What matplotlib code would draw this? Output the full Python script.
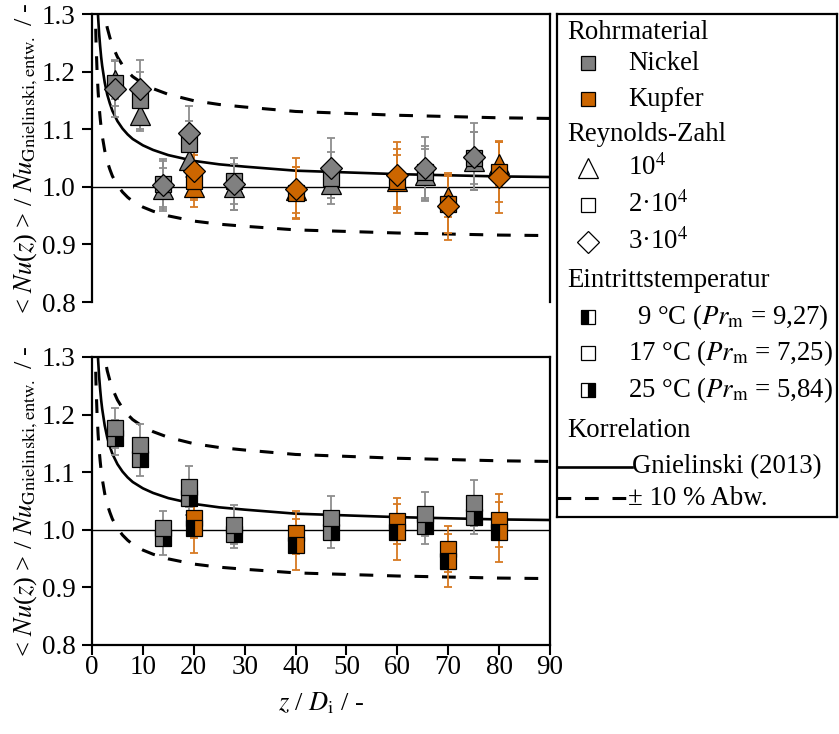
import numpy as np
import matplotlib
matplotlib.use("Agg")
import matplotlib.pyplot as plt

plt.rcParams['font.family'] = ['Liberation Serif', 'DejaVu Serif']
plt.rcParams['mathtext.fontset'] = 'stix'
plt.rcParams['font.size'] = 19

# ---- data ----
x_ni = [4.5, 9.5, 14, 19, 28, 47, 65.5, 75]
x_cu = [20, 40, 60, 70, 80]

# upper panel: Reynolds number series
ni_re1 = [1.185, 1.125, 0.997, 1.047, 1.000, 1.005, 1.020, 1.045]
ni_re1_err = [0.033, 0.028, 0.035, 0.030, 0.040, 0.025, 0.045, 0.050]
ni_re2 = [1.180, 1.150, 1.005, 1.075, 1.010, 1.015, 1.025, 1.050]
ni_re2_err = [0.040, 0.050, 0.040, 0.040, 0.040, 0.045, 0.045, 0.045]
ni_re3 = [1.170, 1.170, 1.003, 1.093, 1.005, 1.032, 1.032, 1.052]
ni_re3_err = [0.048, 0.050, 0.045, 0.048, 0.045, 0.052, 0.055, 0.058]

cu_re1 = [1.000, 0.995, 1.010, 0.983, 1.040]
cu_re1_err = [0.020, 0.040, 0.045, 0.035, 0.038]
cu_re2 = [1.010, 0.990, 1.010, 0.970, 1.025]
cu_re2_err = [0.045, 0.045, 0.055, 0.050, 0.052]
cu_re3 = [1.027, 0.997, 1.020, 0.966, 1.017]
cu_re3_err = [0.050, 0.053, 0.058, 0.058, 0.062]

# lower panel: inlet temperature series
ni_t17 = [1.177, 1.147, 1.003, 1.075, 1.009, 1.021, 1.027, 1.047]
ni_t17_err = [0.035, 0.037, 0.030, 0.035, 0.034, 0.037, 0.038, 0.040]
ni_t25 = [1.160, 1.123, 0.985, 1.055, 0.993, 0.996, 1.006, 1.023]
ni_t25_err = [0.030, 0.030, 0.028, 0.030, 0.025, 0.027, 0.030, 0.030]

cu_t17 = [1.020, 0.995, 1.015, 0.966, 1.017]
cu_t17_err = [0.035, 0.037, 0.040, 0.040, 0.046]
cu_t9 = [1.003, 0.974, 0.996, 0.946, 0.996]
cu_t9_err = [0.043, 0.044, 0.049, 0.046, 0.052]

# Gnielinski (2013) correlation
corr_x = [0.6, 0.8, 1.0, 1.2, 1.4, 1.6, 1.8, 2, 2.5, 3, 3.5, 4, 5, 6, 7, 8, 10,
          12, 15, 20, 25, 30, 40, 50, 60, 70, 80, 90]
corr_y = [1.469, 1.387, 1.333, 1.295, 1.266, 1.244, 1.225, 1.210, 1.181, 1.160,
          1.145, 1.132, 1.114, 1.101, 1.091, 1.083, 1.072, 1.064, 1.055, 1.045,
          1.039, 1.035, 1.028, 1.025, 1.022, 1.020, 1.018, 1.017]

ni_col = '#808080'
ni_err = '#8e8e8e'
cu_col = '#CC6600'
cu_err = '#D77A22'

W, H = 839, 734
fig = plt.figure(figsize=(W / 100, H / 100), dpi=100)

def px_axes(l, t, r, b):
    return fig.add_axes([l / W, 1 - b / H, (r - l) / W, (b - t) / H])

ax1 = px_axes(92, 14, 550, 302)
ax2 = px_axes(92, 357, 550, 645)

cx = np.array(corr_x)
cy = np.array(corr_y)


def base(ax):
    ax.plot(cx, cy, color='black', lw=1.9, zorder=2)
    for f in (1.1, 0.9):
        ax.plot(cx, cy * f, color='black', lw=2.2, dashes=(4.5, 4.5), zorder=2)
    ax.axhline(1.0, color='black', lw=1.0, zorder=1)
    ax.set_xlim(0, 90)
    ax.set_ylim(0.8, 1.3)
    ax.set_yticks([0.8, 0.9, 1.0, 1.1, 1.2, 1.3])
    ax.set_yticklabels(['0.8', '0.9', '1.0', '1.1', '1.2', '1.3'])
    ax.tick_params(direction='out', length=7, width=1.5, labelsize=19.5, pad=5)
    ax.tick_params(axis='x', pad=0)
    for s in ax.spines.values():
        s.set_linewidth(1.6)
    ax.set_ylabel(r'< $Nu$($z$) > / $Nu_{\mathrm{Gnielinski,entw.}}$ / -',
                  fontsize=19, labelpad=1)


base(ax1)
base(ax2)
ax1.spines['bottom'].set_visible(False)
ax1.set_xticks([])
ax2.set_xticks(range(0, 91, 10))
ax2.set_xlabel(r'$z$ / $D_{\mathrm{i}}$ / -', fontsize=19, labelpad=8)

ekw = dict(capsize=3, elinewidth=1.3, capthick=1.3, linestyle='none', zorder=3)

# upper panel
series = [
    (x_ni, ni_re1, ni_re1_err, '^', 15, ni_col, ni_err),
    (x_ni, ni_re2, ni_re2_err, 's', 11.5, ni_col, ni_err),
    (x_ni, ni_re3, ni_re3_err, 'D', 11.5, ni_col, ni_err),
    (x_cu, cu_re1, cu_re1_err, '^', 15, cu_col, cu_err),
    (x_cu, cu_re2, cu_re2_err, 's', 11.5, cu_col, cu_err),
    (x_cu, cu_re3, cu_re3_err, 'D', 11.5, cu_col, cu_err),
]
for x, y, e, m, ms, fc, ec in series:
    ax1.errorbar(x, y, yerr=e, ecolor=ec, fmt='none', **ekw)
for x, y, e, m, ms, fc, ec in series:
    ax1.plot(x, y, linestyle='none', marker=m, ms=ms, mfc=fc, mec='black',
             mew=0.9, zorder=4)

# lower panel
for x, y, e, ec in [(x_ni, ni_t25, ni_t25_err, ni_err),
                    (x_ni, ni_t17, ni_t17_err, ni_err),
                    (x_cu, cu_t17, cu_t17_err, cu_err),
                    (x_cu, cu_t9, cu_t9_err, cu_err)]:
    ax2.errorbar(x, y, yerr=e, ecolor=ec, fmt='none', **ekw)
ax2.plot(x_ni, ni_t25, linestyle='none', marker='s', ms=11.5, fillstyle='right',
         mfc='black', mfcalt=ni_col, mec='black', mew=0.9, zorder=4)
ax2.plot(x_ni, ni_t17, linestyle='none', marker='s', ms=11.5, mfc=ni_col,
         mec='black', mew=0.9, zorder=5)
ax2.plot(x_cu, cu_t17, linestyle='none', marker='s', ms=11.5, mfc=cu_col,
         mec='black', mew=0.9, zorder=4)
ax2.plot(x_cu, cu_t9, linestyle='none', marker='s', ms=11.5, fillstyle='left',
         mfc='black', mfcalt=cu_col, mec='black', mew=0.9, zorder=5)

# legend drawn by hand in pixel units
lax = px_axes(557, 14, 837, 517)
lax.set_xlim(0, 280)
lax.set_ylim(503, 0)
lax.set_xticks([])
lax.set_yticks([])
for s in lax.spines.values():
    s.set_linewidth(1.6)

fs = 19.3
mx = 31
tx = 71
lax.text(10, 18, 'Rohrmaterial', va='center', fontsize=fs)
lax.plot([mx], [49], 's', ms=10.5, mfc=ni_col, mec='black', mew=0.9)
lax.text(tx, 49, 'Nickel', va='center', fontsize=fs)
lax.plot([mx], [85], 's', ms=10.5, mfc=cu_col, mec='black', mew=0.9)
lax.text(tx, 85, 'Kupfer', va='center', fontsize=fs)
lax.text(10, 120, 'Reynolds-Zahl', va='center', fontsize=fs)
lax.plot([mx], [154], '^', ms=15, mfc='white', mec='black', mew=0.9)
lax.text(tx, 154, r'10$^4$', va='center', fontsize=fs)
lax.plot([mx], [191], 's', ms=10.5, mfc='white', mec='black', mew=0.9)
lax.text(tx, 191, r'2·10$^4$', va='center', fontsize=fs)
lax.plot([mx], [228], 'D', ms=11, mfc='white', mec='black', mew=0.9)
lax.text(tx, 228, r'3·10$^4$', va='center', fontsize=fs)
lax.text(10, 266, 'Eintrittstemperatur', va='center', fontsize=fs)
lax.plot([mx], [303], 's', ms=10.5, fillstyle='left', mfc='black',
         mfcalt='white', mec='black', mew=0.9)
lax.text(80, 303, r'9 °C ($Pr_{\mathrm{m}}$ = 9,27)', va='center', fontsize=fs)
lax.plot([mx], [339], 's', ms=10.5, mfc='white', mec='black', mew=0.9)
lax.text(tx, 339, r'17 °C ($Pr_{\mathrm{m}}$ = 7,25)', va='center', fontsize=fs)
lax.plot([mx], [376], 's', ms=10.5, fillstyle='right', mfc='black',
         mfcalt='white', mec='black', mew=0.9)
lax.text(tx, 376, r'25 °C ($Pr_{\mathrm{m}}$ = 5,84)', va='center', fontsize=fs)
lax.text(10, 416, 'Korrelation', va='center', fontsize=fs)
lax.plot([0, 75], [453, 453], color='black', lw=1.9)
lax.text(75, 453, 'Gnielinski (2013)', va='center', fontsize=fs)
lax.plot([0, 70], [484, 484], color='black', lw=2.2, dashes=(4.5, 4.5))
lax.text(71, 484, '± 10 % Abw.', va='center', fontsize=fs)

fig.savefig('out.png', dpi=100)
